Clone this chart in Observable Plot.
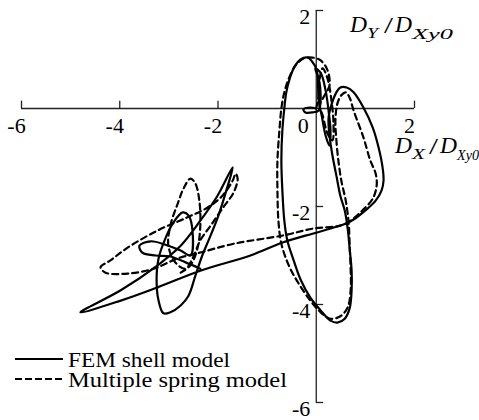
<!DOCTYPE html>
<html>
<head>
<meta charset="utf-8">
<script src="https://cdn.jsdelivr.net/npm/d3@7"></script>
<script src="https://cdn.jsdelivr.net/npm/@observablehq/plot@0.6"></script>
<style>
  body { margin: 0; background: #fff; }
  #chart svg { display: block; }
  #chart svg text { font-family: "Liberation Serif"; }
</style>
</head>
<body>
<div id="chart"></div>
<script>
// Orbit of the normalised displacement (D_X / D_Xy0, D_Y / D_Xy0)
// FEM shell model (solid)
const femPath = [
  [0, 0], [-0.12, 0.02], [-0.26, -0.02], [-0.22, -0.08], [-0.08, -0.08], [0.05, -0.04],
  [0.09, 0.27], [0.05, 0.61], [-0.02, 0.82], [0.09, 0.73], [0.19, 0.37], [0.25, -0.04],
  [0.29, -0.45], [0.27, -0.76], [0.19, -0.55], [0.11, -0.14], [0.05, 0.16], [0.01, 0.78],
  [-0.10, 0.98], [-0.18, 1.04], [-0.32, 1.00], [-0.44, 0.86], [-0.54, 0.61], [-0.61, 0.33],
  [-0.65, 0], [-0.69, -0.45], [-0.71, -1.06], [-0.69, -1.67], [-0.65, -2.29], [-0.59, -2.69],
  [-0.46, -3.10], [-0.32, -3.49], [-0.12, -3.86], [0.09, -4.12], [0.29, -4.33], [0.43, -4.37],
  [0.58, -4.29], [0.68, -4.08], [0.72, -3.71], [0.72, -3.31], [0.68, -2.86], [0.64, -2.45],
  [0.58, -2.08], [0.49, -1.78], [0.41, -1.37], [0.33, -0.96], [0.27, -0.55], [0.25, -0.20],
  [0.31, 0.08], [0.41, 0.33], [0.49, 0.43], [0.62, 0.43], [0.76, 0.33], [0.96, 0.02],
  [1.15, -0.39], [1.27, -0.80], [1.35, -1.20], [1.37, -1.47], [1.33, -1.67], [1.21, -1.88],
  [1.00, -2.08], [0.80, -2.24], [0.64, -2.33], [0.29, -2.45], [-0.06, -2.55], [-0.67, -2.73],
  [-1.34, -3.00], [-2.36, -3.31], [-3.23, -3.65], [-3.98, -3.92], [-4.80, -4.16],
  [-3.98, -3.71], [-3.23, -3.20], [-2.76, -2.80], [-2.36, -2.29], [-2.01, -1.78], [-1.70, -1.20],
  [-1.83, -1.67], [-1.99, -2.18], [-2.15, -2.59], [-2.32, -3.00], [-2.46, -3.41], [-2.60, -3.82],
  [-2.76, -4.02], [-2.97, -4.16], [-3.11, -4.18], [-3.21, -3.92], [-3.25, -3.51], [-3.21, -3.06],
  [-3.07, -2.65], [-2.91, -2.33], [-2.72, -2.12], [-2.60, -2.18], [-2.52, -2.49], [-2.56, -3.00],
  [-2.76, -2.90], [-3.07, -2.78], [-3.37, -2.71], [-3.60, -2.80], [-3.54, -2.94], [-3.27, -3.00],
  [-2.97, -3.02], [-2.66, -3.14], [-2.36, -3.27]
];

// Multiple spring model (dashed)
const springPath = [
  [0, 0], [0.05, 0.27], [0.07, 0.61], [0.13, 0.82], [0.23, 0.61], [0.31, 0.16], [0.35, -0.29],
  [0.33, -0.65], [0.23, -0.51], [0.13, -0.14], [0.07, 0.06], [0.17, 0.27], [0.27, 0.47],
  [0.23, 0.78], [0.09, 0.98], [-0.08, 1.04], [-0.26, 1.02], [-0.42, 0.88], [-0.56, 0.61],
  [-0.65, 0.33], [-0.71, 0], [-0.75, -0.45], [-0.79, -1.06], [-0.79, -1.67], [-0.77, -2.29],
  [-0.71, -2.76], [-0.56, -3.20], [-0.36, -3.57], [-0.12, -3.92], [0.09, -4.16], [0.29, -4.29],
  [0.49, -4.24], [0.64, -4.06], [0.70, -3.71], [0.70, -3.27], [0.68, -2.80], [0.66, -2.33],
  [0.60, -1.88], [0.51, -1.47], [0.45, -1.06], [0.41, -0.65], [0.39, -0.24], [0.43, 0.10],
  [0.51, 0.27], [0.60, 0.33], [0.68, 0.22], [0.76, -0.04], [0.96, -0.59], [1.10, -1.06],
  [1.21, -1.33], [1.23, -1.57], [1.15, -1.84], [0.94, -2.08], [0.70, -2.29], [0.49, -2.39],
  [-0.06, -2.45], [-0.67, -2.59], [-1.68, -2.76], [-2.36, -2.94], [-2.82, -3.06], [-3.31, -3.27],
  [-3.84, -3.37], [-4.29, -3.35], [-4.39, -3.24], [-4.19, -3.10], [-3.84, -2.84], [-3.23, -2.49],
  [-2.62, -2.22], [-2.21, -2.02], [-1.91, -1.78], [-1.70, -1.47], [-1.64, -1.33], [-1.60, -1.43],
  [-1.68, -1.71], [-1.91, -2.04], [-2.15, -2.39], [-2.36, -2.69], [-2.52, -3.06], [-2.66, -3.27],
  [-2.87, -3.14], [-3.01, -2.80], [-2.97, -2.39], [-2.82, -1.94], [-2.70, -1.63], [-2.56, -1.43],
  [-2.46, -1.53], [-2.38, -1.88], [-2.36, -2.39], [-2.42, -2.86], [-2.56, -3.20], [-2.76, -3.35]
];

// Axis ticks and their labels
const xTicks = [-6, -4, -2, 2];
const xTickLabels = ["-6", "-4", "-2", "2"];
const xZeroLabel = ["0"];
const yTicks = [2, -2, -4, -6];
const yTickLabels = ["2", "-2", "-4", "-6"];

// Legend entries
const seriesNames = ["FEM shell model", "Multiple spring model"];

const serif = "Liberation Serif";

const plot = Plot.plot({
  width: 479,
  height: 420,
  marginLeft: 21,
  marginRight: 65,
  marginTop: 10,
  marginBottom: 18,
  x: { domain: [-6, 2], axis: null },
  y: { domain: [-6, 2], axis: null },
  style: { fontFamily: serif, fontSize: "22px", background: "white", color: "black", overflow: "hidden" },
  marks: [
    // axes crossing at the origin
    Plot.ruleY([0], { x1: -6, x2: 2, stroke: "#222", strokeWidth: 1.3 }),
    Plot.ruleX([0], { y1: -6, y2: 2, stroke: "#222", strokeWidth: 1.3 }),
    Plot.ruleX(xTicks, { x: d => d, y1: 0, y2: 0.15, stroke: "#222", strokeWidth: 1.3 }),
    Plot.ruleY(yTicks, { y: d => d, x1: 0, x2: 0.15, stroke: "#222", strokeWidth: 1.3 }),
    Plot.text(xTicks, { x: d => d, y: 0, text: (d, i) => xTickLabels[i], dy: 17, dx: -5, fill: "black", fontFamily: serif, fontSize: 22 }),
    Plot.text([0], { x: d => d, y: 0, text: (d, i) => xZeroLabel[i], dy: 17, dx: -13, fill: "black", fontFamily: serif, fontSize: 22 }),
    Plot.text(yTicks, { x: 0, y: d => d, text: (d, i) => yTickLabels[i], dx: -6, dy: 6, textAnchor: "end", fill: "black", fontFamily: serif, fontSize: 22 }),
    // orbits
    Plot.line(springPath, { x: d => d[0], y: d => d[1], curve: "catmull-rom", stroke: "black", strokeWidth: 2.2, strokeDasharray: "6,4" }),
    Plot.line(femPath, { x: d => d[0], y: d => d[1], curve: "catmull-rom", stroke: "black", strokeWidth: 2.2 })
  ]
});

const svg = d3.select(plot);

// Axis titles with subscripts
function axisTitle(parts) {
  for (const p of parts) {
    const t = svg.append("text")
      .attr("x", p.x).attr("y", p.y)
      .attr("text-anchor", "start")
      .attr("font-family", serif)
      .attr("font-style", p.upright ? "normal" : "italic")
      .attr("font-size", p.size)
      .attr("fill", "black")
      .text(p.text);
    if (p.w) t.attr("textLength", p.w).attr("lengthAdjust", "spacingAndGlyphs");
  }
}
axisTitle([
  { text: "D", x: 350, y: 32, size: 23, w: 17 },
  { text: "Y", x: 367, y: 38, size: 15, w: 11 },
  { text: "/", x: 384, y: 33, size: 23, w: 9, upright: true },
  { text: "D", x: 395, y: 32, size: 23, w: 17 },
  { text: "Xy0", x: 412, y: 39, size: 15, w: 41 }
]);
axisTitle([
  { text: "D", x: 395, y: 153, size: 23, w: 17 },
  { text: "X", x: 412, y: 159, size: 15, w: 13 },
  { text: "/", x: 429, y: 154, size: 23, w: 9, upright: true },
  { text: "D", x: 440, y: 153, size: 23, w: 17 },
  { text: "Xy0", x: 457, y: 160, size: 15, w: 22 }
]);

// Legend: line swatch followed by the series name
const swatchDash = [null, "7,3"];
const legendRows = [359, 379];
const legendWidths = [162, 219];
const legend = svg.append("g");
seriesNames.forEach((name, i) => {
  const ln = legend.append("line")
    .attr("x1", 15).attr("x2", 63).attr("y1", legendRows[i]).attr("y2", legendRows[i])
    .attr("stroke", "black").attr("stroke-width", 2);
  if (swatchDash[i]) ln.attr("stroke-dasharray", swatchDash[i]);
  legend.append("text")
    .attr("x", 68).attr("y", legendRows[i] + 8)
    .attr("text-anchor", "start")
    .attr("font-family", serif)
    .attr("font-size", 22).attr("fill", "black")
    .attr("textLength", legendWidths[i]).attr("lengthAdjust", "spacingAndGlyphs")
    .text(name);
});

document.getElementById("chart").appendChild(plot);
</script>
</body>
</html>
